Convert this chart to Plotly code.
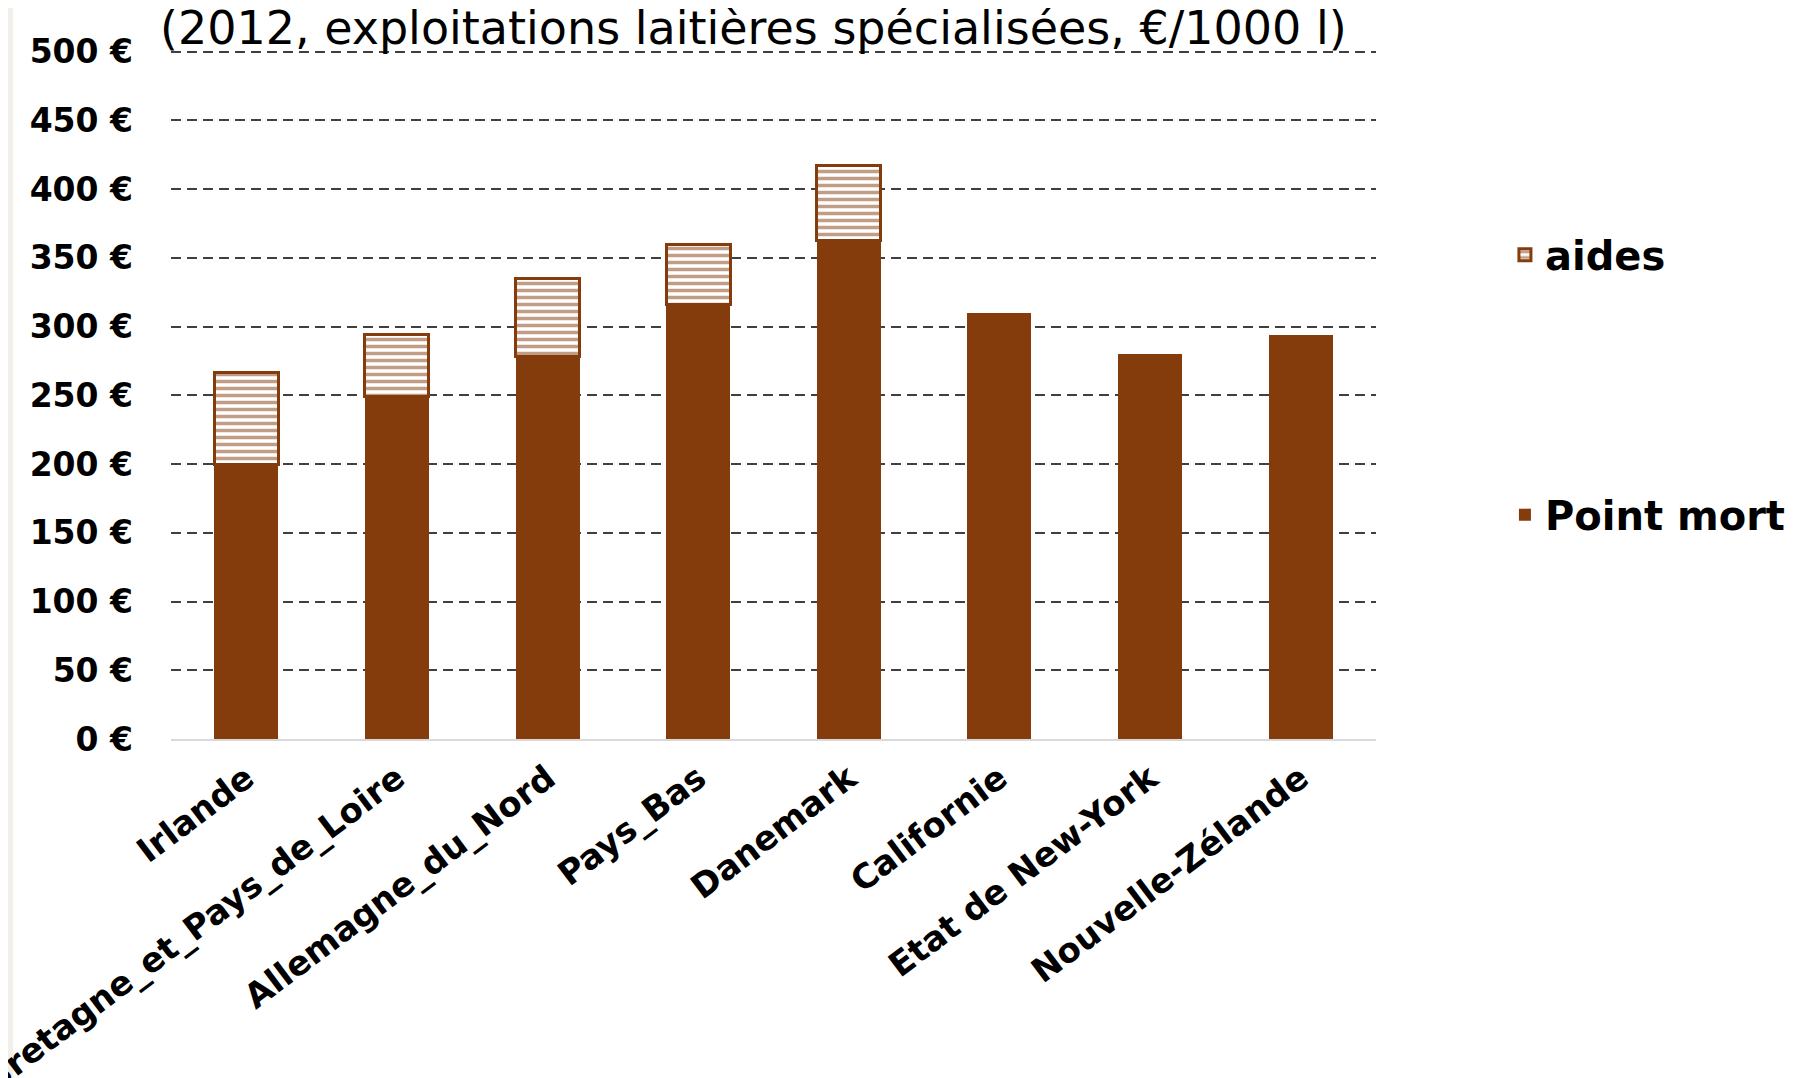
import plotly.graph_objects as go

# Point mort et aides, exploitations laitières spécialisées (€/1000 l)
pays = ["Irlande", "Bretagne_et_Pays_de_Loire", "Allemagne_du_Nord", "Pays_Bas",
        "Danemark", "Californie", "Etat de New-York", "Nouvelle-Zélande"]
point_mort = [200, 249, 278, 316, 363, 310, 280, 294]
aides = [67, 45, 57, 44, 54, None, None, None]
y_ticks = [0, 50, 100, 150, 200, 250, 300, 350, 400, 450, 500]
y_labels = [f"{v} €" for v in y_ticks]

BRUN = "#843C0C"

fig = go.Figure()
fig.add_trace(go.Bar(
    x=pays,
    y=point_mort,
    name="Point mort",
    legendgroup="pm",
    legendrank=2,
    marker=dict(color=BRUN, line=dict(width=0)),
))
fig.add_trace(go.Bar(
    x=pays,
    y=aides,
    name="aides",
    legendgroup="aides",
    legendrank=1,
    marker=dict(
        color="white",
        pattern=dict(shape="-", fgcolor=BRUN, bgcolor="white", size=7, solidity=0.5),
        line=dict(color=BRUN, width=3),
    ),
))

fig.update_layout(
    barmode="stack",
    bargap=0.575,
    width=1820,
    height=1078,
    margin=dict(l=163, r=452, t=41, b=347, autoexpand=False),
    plot_bgcolor="white",
    paper_bgcolor="white",
    font=dict(family="DejaVu Sans", color="black"),
    title=dict(
        text="(2012, exploitations laitières spécialisées, €/1000 l)",
        xref="container", yref="container",
        x=0.4095, y=0.9815, xanchor="center", yanchor="middle",
        font=dict(family="DejaVu Sans", size=46, color="black"),
    ),
    legend=dict(
        x=1.107, y=0.749, xanchor="left", yanchor="top",
        traceorder="grouped",
        tracegroupgap=205,
        font=dict(family="DejaVu Sans", size=40, weight="bold"),
        bgcolor="rgba(0,0,0,0)",
    ),
    shapes=[dict(
        type="rect", xref="paper", yref="paper",
        x0=-0.136, x1=-0.131, y0=-0.6, y1=1.2,
        fillcolor="#F2EFEB", line=dict(width=0), layer="below",
    )],
)

fig.update_yaxes(
    range=[0, 502],
    tickmode="array",
    tickvals=y_ticks,
    ticktext=y_labels,
    tickfont=dict(family="DejaVu Sans", size=33, weight="bold"),
    ticklabelstandoff=37,
    automargin=False,
    showgrid=True,
    gridcolor="#404040",
    gridwidth=1.5,
    griddash="10px,6px",
    zeroline=False,
    showline=False,
)
fig.update_xaxes(
    tickangle=-37,
    tickfont=dict(family="DejaVu Sans", size=34, weight="bold"),
    ticklabelstandoff=4,
    automargin=False,
    showline=True,
    linecolor="#D9D9D9",
    linewidth=2,
    showgrid=False,
)

fig.write_html("out.html")
